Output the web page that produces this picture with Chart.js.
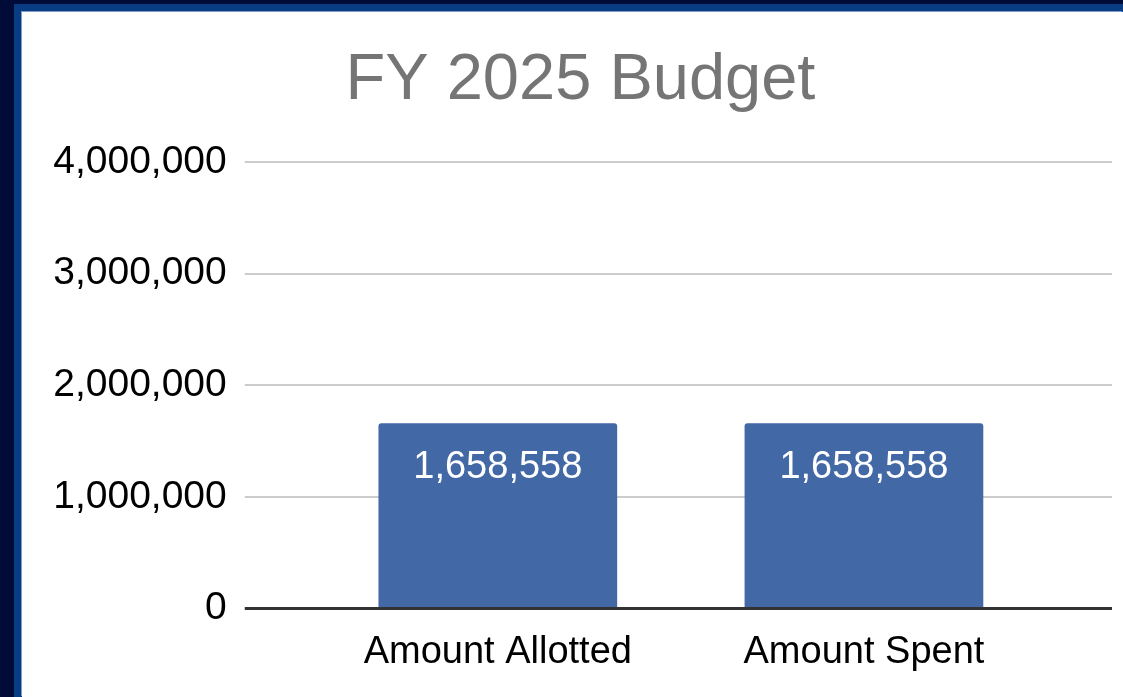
<!DOCTYPE html>
<html>
<head>
<meta charset="utf-8">
<script src="https://cdn.jsdelivr.net/npm/chart.js@4.4.1/dist/chart.umd.min.js"></script>
<style>
  html, body { margin: 0; padding: 0; }
  body {
    width: 1123px;
    height: 697px;
    overflow: hidden;
    background: #010b38;
    position: relative;
  }
  .frame {
    position: absolute;
    left: 14px;
    top: 4px;
    right: 0;
    bottom: 0;
    background: #083d84;
  }
  .panel {
    position: absolute;
    left: 22px;
    top: 12px;
    width: 1101px;
    height: 685px;
    background: #ffffff;
    box-shadow: -1px -1px 0 #7f9bc9;
  }
  #budget-chart { display: block; }
</style>
</head>
<body>
<div class="frame"></div>
<div class="panel">
  <canvas id="budget-chart" width="1101" height="685"></canvas>
</div>
<script>
// FY 2025 budget chart data
const categories = ['Amount Allotted', 'Amount Spent'];
const amounts = [1658558, 1658558];
const yTickValues = [0, 1000000, 2000000, 3000000, 4000000];

const FONT = "'Liberation Sans', Arial, sans-serif";
const BAR_COLOR = '#4368a6';

function gridColor(ctx) {
  return ctx.tick && ctx.tick.value === 0 ? '#333333' : '#cccccc';
}
function gridWidth(ctx) {
  return ctx.tick && ctx.tick.value === 0 ? 3 : 2;
}
function setTicks(axis) {
  axis.ticks = yTickValues.map(v => ({ value: v }));
}

// Value labels inside the top of each bar
const barValueLabels = {
  id: 'barValueLabels',
  afterDatasetsDraw(chart) {
    const { ctx } = chart;
    const meta = chart.getDatasetMeta(0);
    ctx.save();
    ctx.font = `38px ${FONT}`;
    ctx.fillStyle = '#ffffff';
    ctx.textAlign = 'center';
    ctx.textBaseline = 'alphabetic';
    meta.data.forEach((bar, i) => {
      const value = chart.data.datasets[0].data[i];
      ctx.fillText(value.toLocaleString('en-US'), bar.x, bar.y + 55);
    });
    ctx.restore();
  }
};

new Chart(document.getElementById('budget-chart'), {
  type: 'bar',
  data: {
    labels: categories,
    datasets: [{
      label: 'FY 2025 Budget',
      data: amounts,
      backgroundColor: BAR_COLOR,
      borderWidth: 0,
      borderRadius: { topLeft: 3, topRight: 3 },
      borderSkipped: 'start',
      categoryPercentage: 0.652,
      barPercentage: 1
    }]
  },
  options: {
    responsive: false,
    animation: false,
    layout: {
      padding: { left: 27, right: 11, top: 0, bottom: 9 }
    },
    plugins: {
      legend: { display: false },
      tooltip: { enabled: false },
      title: {
        display: true,
        text: 'FY 2025 Budget',
        color: '#757575',
        font: { family: FONT, size: 65, weight: 'normal' },
        padding: { top: 30, bottom: 42 }
      }
    },
    scales: {
      x: {
        grid: { display: false },
        border: { display: false },
        ticks: {
          color: '#000000',
          padding: 13,
          font: { family: FONT, size: 38 }
        }
      },
      y: {
        min: 0,
        max: 4000000,
        afterBuildTicks: setTicks,
        border: { display: false },
        grid: {
          color: gridColor,
          tickColor: gridColor,
          lineWidth: gridWidth,
          drawTicks: true,
          tickLength: 70
        },
        ticks: {
          color: '#000000',
          padding: 18,
          font: { family: FONT, size: 39 },
          callback: v => Number(v).toLocaleString('en-US')
        }
      },
      yRight: {
        position: 'right',
        min: 0,
        max: 4000000,
        afterBuildTicks: setTicks,
        border: { display: false },
        grid: {
          drawOnChartArea: false,
          color: gridColor,
          tickColor: gridColor,
          lineWidth: gridWidth,
          drawTicks: true,
          tickLength: 65
        },
        ticks: { display: false }
      }
    }
  },
  plugins: [barValueLabels]
});
</script>
</body>
</html>
